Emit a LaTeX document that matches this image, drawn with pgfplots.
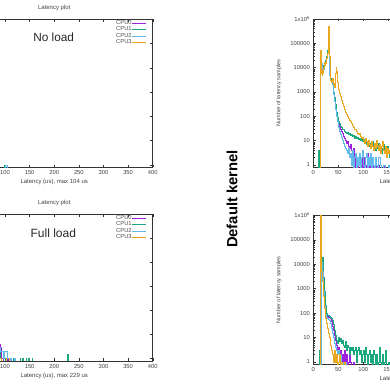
\documentclass[border=0pt]{standalone}
\usepackage{fontspec}
\setmainfont{Liberation Sans}
\usepackage{pgfplots}
\pgfplotsset{compat=1.18}
\definecolor{c0}{HTML}{9C20DC}
\definecolor{c1}{HTML}{1AA87E}
\definecolor{c2}{HTML}{62BAEC}
\definecolor{c3}{HTML}{EAA820}
\pgfplotsset{
  latplot/.style={
    scale only axis, ymin=0.8, ymax=1e6, xmin=0, xmax=400,
    xtick={0,50,...,400},
    xticklabels={0,50,100,150,200,250,300,350,400},
    ytick={1,10,100,1000,10000,100000,1000000},
    yticklabels={1,10,100,1000,10000,100000,1x10\textsuperscript{6}},
    minor ytick={2,3,4,5,6,7,8,9,20,30,40,50,60,70,80,90,200,300,400,500,600,700,800,900,2000,3000,4000,5000,6000,7000,8000,9000,20000,30000,40000,50000,60000,70000,80000,90000,200000,300000,400000,500000,600000,700000,800000,900000},
    tick align=inside, major tick length=2.5pt, minor tick length=1.2pt,
    axis line style={black!80, line width=0.5pt},
    tick style={black!80, line width=0.4pt},
    tick label style={font=\fontsize{5.8}{6}\selectfont, text=black!75},
    title style={font=\fontsize{6}{6}\selectfont, text=black!75, at={(axis description cs:0.5,1)}, anchor=center, yshift=5pt},
    xlabel style={font=\fontsize{6}{6}\selectfont, text=black!75, at={(axis description cs:0.5,0)}, anchor=center, yshift=-14.7pt},
    ylabel style={font=\fontsize{5.5}{6}\selectfont, text=black!75, at={(axis description cs:-0.172,0.5)}, anchor=center},
    title={Latency plot},
    every axis plot/.append style={const plot, line width=0.5pt, no markers},
    legend plot pos=right, legend cell align=right,
    legend image code/.code={\draw[##1] (0pt,0pt) -- (13.3pt,0pt);},
    legend style={draw=none, fill=none, inner sep=0pt, row sep=0.2pt,
      font=\fontsize{5.8}{5.8}\selectfont, text=black!70,
      nodes={inner sep=0.3pt}, at={(rel axis cs:0.966,0.995)}, anchor=north east},
  }
}
\begin{document}
\begin{tikzpicture}
\useasboundingbox (0pt,0pt) rectangle (390pt,390pt);
\clip (0pt,0pt) rectangle (390pt,390pt);

% ---------- top left: No load ----------
\begin{semilogyaxis}[latplot, at={(-44.2pt,222.7pt)}, anchor=south west, width=196.9pt, height=148.1pt,
  xlabel={Latency (us), max 104 us}]
\addplot[c0] coordinates {(88,0.5) (400,0.5)};
\addplot[c1] coordinates {(88,0.5) (99,1) (100,0.5) (400,0.5)};
\addplot[c2] coordinates {(88,0.5) (101,1) (104,0.5) (400,0.5)};
\addplot[c3] coordinates {(88,0.5) (400,0.5)};
\legend{CPU0,CPU1,CPU2,CPU3}
\end{semilogyaxis}

% ---------- bottom left: Full load ----------
\begin{semilogyaxis}[latplot, at={(-44.2pt,29.2pt)}, anchor=south west, width=196.9pt, height=146.5pt,
  xlabel={Latency (us), max 229 us}]
\addplot[c0] coordinates {(88,4) (91,3) (92,1) (96,0.5) (104,1) (106,0.5) (112,1) (113,0.5) (400,0.5)};
\addplot[c1] coordinates {(88,2) (90,1) (93,0.5) (100,1) (101,0.5) (116,1) (117,0.5) (130,1) (131,0.5) (135,1) (137,0.5) (143,1) (144,0.5) (148,1) (149,0.5) (155,1) (156,0.5) (227,1.5) (229,0.5) (400,0.5)};
\addplot[c2] coordinates {(88,3) (91,2) (97,1) (98,2) (104,1) (108,0.5) (110,1) (113,0.5) (118,1) (120,0.5) (400,0.5)};
\addplot[c3] coordinates {(88,1) (92,0.5) (102,1) (103,0.5) (108,1) (109,0.5) (400,0.5)};
\legend{CPU0,CPU1,CPU2,CPU3}
\end{semilogyaxis}

% ---------- top right: Default kernel, no load ----------
\begin{semilogyaxis}[latplot, at={(313.3pt,222.7pt)}, anchor=south west, width=200pt, height=148.3pt,
  xlabel={Latency (us), max 302 us}, ylabel={Number of latency samples}]
\addplot[c0] coordinates {(0,0.5) (13,0.5) (14,15000) (15,25000) (16,10000) (17,9000) (18,11000) (19,8000) (20,10000) (22,13000) (24,18000) (26,28000) (28,45000) (29,55000) (30,50000) (31,15000) (32,6000) (33,3500) (35,2800) (37,2500) (39,1500) (40,900) (42,500) (44,250) (46,130) (48,80) (50,50) (52,40) (54,30) (56,25) (58,20) (60,15) (62,12) (64,10) (66,8) (68,9) (70,6) (72,5) (74,7) (76,4) (78,3) (80,5) (82,0.5) (84,3) (86,2) (88,0.5) (90,2) (92,3) (94,1) (96,2) (98,0.5) (100,1) (102,2) (104,0.5) (106,1) (108,3) (110,1) (112,0.5) (114,2) (116,1) (118,0.5) (120,1) (124,2) (126,0.5) (130,1) (132,0.5) (140,1) (142,0.5) (150,1) (152,0.5) (170,0.5)};
\addplot[c1] coordinates {(0,0.5) (9,4) (11,0.5) (13,300) (14,20000) (15,30000) (16,10000) (17,8000) (18,12000) (19,7000) (20,9000) (21,10000) (22,12000) (23,15000) (24,20000) (25,25000) (26,30000) (27,40000) (28,50000) (29,70000) (30,60000) (31,20000) (32,8000) (33,4000) (34,3500) (35,3000) (36,2500) (37,3000) (38,2000) (39,1500) (40,1000) (41,800) (42,600) (43,400) (44,300) (45,200) (46,150) (47,120) (48,90) (49,70) (50,60) (52,50) (54,40) (56,35) (58,30) (60,28) (62,25) (64,22) (66,20) (68,22) (70,18) (72,20) (74,16) (76,18) (78,15) (80,17) (82,13) (84,15) (86,12) (88,14) (90,11) (92,13) (94,10) (96,12) (98,9) (100,11) (102,8) (104,10) (106,7) (108,9) (110,6) (112,8) (114,5) (116,7) (118,9) (120,5) (122,6) (124,4) (126,7) (128,5) (130,8) (132,4) (134,6) (136,3) (138,5) (140,7) (142,4) (144,5) (146,3) (148,6) (150,4) (152,2) (154,3) (156,5) (160,2) (170,0.5)};
\addplot[c2] coordinates {(0,0.5) (13,0.5) (14,12000) (15,25000) (16,15000) (17,8000) (18,10000) (20,9000) (22,12000) (24,16000) (26,25000) (28,40000) (29,50000) (30,45000) (31,12000) (32,5000) (33,3000) (35,2500) (37,2200) (39,1200) (40,800) (42,400) (44,200) (46,100) (48,60) (50,35) (52,25) (54,18) (56,14) (58,10) (60,8) (62,6) (64,5) (66,4) (68,3) (70,5) (72,2) (74,3) (76,1) (78,4) (80,0.5) (82,2) (84,3) (86,0.5) (88,2) (90,1) (92,3) (94,0.5) (96,2) (98,4) (100,1) (102,0.5) (104,2) (106,3) (108,0.5) (110,2) (112,1) (114,3) (116,0.5) (118,2) (120,1) (122,0.5) (124,2) (126,1) (128,0.5) (130,2) (134,1) (136,0.5) (140,1) (144,0.5) (150,1) (152,0.5) (170,0.5)};
\addplot[c3] coordinates {(0,0.5) (13,30) (14,50000) (15,20000) (16,6000) (17,5000) (18,8000) (19,6000) (20,10000) (21,12000) (22,16000) (23,13000) (24,15000) (25,18000) (26,25000) (27,30000) (28,40000) (29,150000) (30,500000) (31,200000) (32,30000) (33,5000) (34,3000) (35,2500) (36,3000) (37,2800) (38,3500) (39,2500) (40,2000) (41,2200) (42,1500) (43,3000) (44,6000) (45,10000) (46,7000) (47,4000) (48,2500) (49,1800) (50,1300) (52,900) (54,650) (56,450) (58,350) (60,260) (62,200) (64,150) (66,120) (68,100) (70,80) (72,70) (74,60) (76,50) (78,42) (80,36) (82,30) (84,28) (86,24) (88,20) (90,18) (92,20) (94,15) (96,12) (98,14) (100,10) (102,8) (104,12) (106,9) (108,6) (110,10) (112,7) (114,5) (116,9) (118,6) (120,4) (122,8) (124,5) (126,10) (128,6) (130,4) (132,7) (134,3) (136,6) (138,9) (140,4) (142,3) (144,6) (146,2) (148,5) (150,3) (152,4) (154,2) (156,3) (160,2) (170,0.5)};
\end{semilogyaxis}

% ---------- bottom right: Default kernel, full load ----------
\begin{semilogyaxis}[latplot, at={(313.3pt,25.7pt)}, anchor=south west, width=200pt, height=149pt,
  xlabel={Latency (us), max 245 us}, ylabel={Number of latency samples}]
\addplot[c0] coordinates {(0,0.5) (13,150) (14,0.5) (15,3000) (16,12000) (17,15000) (18,6000) (19,3000) (20,1500) (21,700) (22,350) (23,200) (24,120) (25,90) (26,80) (28,75) (30,70) (32,65) (34,60) (36,45) (38,30) (40,20) (42,12) (44,8) (46,5) (48,3) (50,4) (52,2) (54,3) (56,1) (58,2) (60,1) (62,3) (64,1) (66,2) (68,0.5) (70,1) (72,3) (74,1) (76,0.5) (80,1) (82,0.5) (170,0.5)};
\addplot[c1] coordinates {(0,0.5) (11,3) (12,0.5) (14,10) (15,100) (16,5000) (17,15000) (18,20000) (19,8000) (20,3000) (21,1500) (22,800) (23,400) (24,200) (25,130) (26,100) (27,90) (28,85) (30,80) (32,75) (34,70) (36,60) (38,50) (40,35) (42,20) (44,12) (46,8) (48,6) (50,10) (52,7) (54,9) (56,6) (58,8) (60,5) (62,4) (64,7) (66,3) (68,5) (70,4) (72,2) (74,4) (76,3) (78,4) (80,2) (82,3) (84,4) (86,1) (88,3) (90,4) (92,2) (94,3) (96,1) (98,2) (100,3) (102,1) (104,4) (106,2) (108,0.5) (110,2) (112,3) (114,1) (116,2) (118,0.5) (120,3) (122,2) (124,0.5) (126,2) (128,0.5) (130,1) (132,4) (134,1) (136,0.5) (138,2) (140,0.5) (142,1) (144,3) (146,0.5) (150,1) (152,0.5) (170,0.5)};
\addplot[c2] coordinates {(0,0.5) (15,2000) (16,10000) (17,12000) (18,5000) (19,2000) (20,800) (21,400) (22,200) (23,120) (24,90) (25,70) (26,65) (28,60) (30,55) (32,50) (34,40) (36,25) (38,15) (40,10) (42,6) (44,4) (46,3) (48,2) (50,3) (52,1) (54,2) (56,0.5) (58,1) (60,0.5) (64,1) (66,0.5) (170,0.5)};
\addplot[c3] coordinates {(0,0.5) (13,1500000) (15,20000) (16,5000) (17,3000) (18,2000) (19,1000) (20,500) (21,300) (22,150) (23,80) (24,60) (25,50) (26,40) (27,30) (28,25) (29,20) (30,15) (32,10) (34,5) (36,3) (38,2) (40,1) (42,3) (44,1) (46,2) (48,0.5) (50,1) (52,2) (54,0.5) (56,1) (58,0.5) (62,1) (64,0.5) (170,0.5)};
\end{semilogyaxis}

\node[font=\fontsize{11.8}{12}\selectfont, text=black!85] at (53.7pt,352.5pt) {No load};
\node[font=\fontsize{12}{12}\selectfont, text=black!85] at (53.3pt,156.5pt) {Full load};
\node[font=\bfseries\fontsize{14.8}{15}\selectfont, rotate=90] at (232pt,191pt) {Default kernel};
\end{tikzpicture}
\end{document}
